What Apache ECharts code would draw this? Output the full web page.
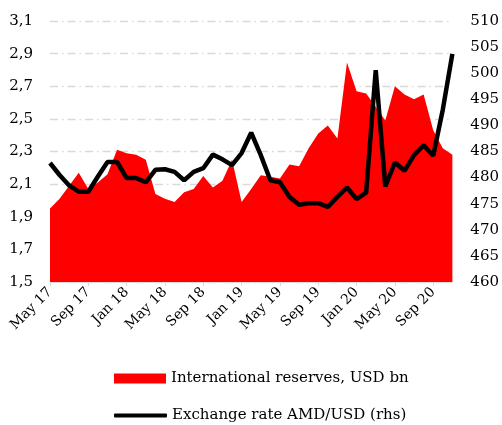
<!DOCTYPE html>
<html>
<head>
<meta charset="utf-8">
<script src="https://cdn.jsdelivr.net/npm/echarts@6/dist/echarts.min.js"></script>
<style>
  html, body { margin: 0; padding: 0; background: #fff; }
  #chart { width: 502px; height: 425px; }
</style>
</head>
<body>
<div id="chart"></div>
<script>
//months May 17 .. Nov 20
let months = [
  'May 17','Jun 17','Jul 17','Aug 17','Sep 17','Oct 17','Nov 17','Dec 17',
  'Jan 18','Feb 18','Mar 18','Apr 18','May 18','Jun 18','Jul 18','Aug 18',
  'Sep 18','Oct 18','Nov 18','Dec 18','Jan 19','Feb 19','Mar 19','Apr 19',
  'May 19','Jun 19','Jul 19','Aug 19','Sep 19','Oct 19','Nov 19','Dec 19',
  'Jan 20','Feb 20','Mar 20','Apr 20','May 20','Jun 20','Jul 20','Aug 20',
  'Sep 20','Oct 20','Nov 20'
];

//International reserves, USD bn (lhs)
let reserves = [
  1.95, 2.01, 2.09, 2.17, 2.07, 2.11, 2.16, 2.31,
  2.29, 2.28, 2.25, 2.04, 2.01, 1.99, 2.05, 2.07,
  2.15, 2.08, 2.12, 2.25, 1.99, 2.07, 2.155, 2.145,
  2.135, 2.22, 2.21, 2.32, 2.41, 2.46, 2.38, 2.845,
  2.67, 2.655, 2.575, 2.49, 2.70, 2.65, 2.62, 2.65,
  2.43, 2.32, 2.28
];

//Exchange rate AMD/USD (rhs)
let amdUsd = [
  482.8, 480.5, 478.5, 477.3, 477.3, 480.2, 483.0, 483.0,
  479.9, 479.9, 479.1, 481.5, 481.6, 481.1, 479.5, 481.1,
  481.8, 484.4, 483.5, 482.4, 484.7, 488.6, 484.3, 479.5,
  479.1, 476.3, 474.8, 475.1, 475.1, 474.4, 476.3, 478.1,
  475.9, 477.1, 500.6, 478.3, 482.9, 481.3, 484.3, 486.2,
  484.2, 493.0, 503.7
];

let leftTicks = { min: 1.5, max: 3.1, step: 0.2 };
let rightTicks = { min: 460, max: 510, step: 5 };

let names = ['International reserves, USD bn', 'Exchange rate AMD/USD (rhs)'];

let font = 'DejaVu Serif';
let chart = echarts.init(document.getElementById('chart'));

let legendText = { fontFamily: font, fontSize: 15, color: '#000' };

let option = {
  animation: false,
  grid: { left: 50, right: 49, top: 21, bottom: 143 },
  legend: [
    {
      left: 109, top: 366,
      itemWidth: 52, itemHeight: 10, itemGap: 6,
      textStyle: legendText,
      data: [{ name: names[0], icon: 'rect', itemStyle: { color: '#ff0000' } }]
    },
    {
      left: 109, top: 403,
      itemWidth: 53, itemHeight: 4, itemGap: 6,
      textStyle: legendText,
      data: [{ name: names[1], icon: 'roundRect', itemStyle: { color: '#000' } }]
    }
  ],
  xAxis: {
    type: 'category',
    data: months,
    boundaryGap: false,
    axisLine: { lineStyle: { color: '#d9d9d9', width: 1 } },
    axisTick: { interval: 3, length: 4, lineStyle: { color: '#d9d9d9' } },
    axisLabel: {
      interval: 3, rotate: 45, margin: 8,
      fontFamily: font, fontSize: 14, color: '#000'
    },
    splitLine: { show: false }
  },
  yAxis: [
    {
      type: 'value',
      min: leftTicks.min, max: leftTicks.max, interval: leftTicks.step,
      axisLine: { show: false },
      axisTick: { show: false },
      axisLabel: {
        margin: 17, fontFamily: font, fontSize: 15, color: '#000',
        formatter: function (v) { return v.toFixed(1).replace('.', ','); }
      },
      splitLine: { lineStyle: { color: '#d9d9d9', width: 1.3, type: [8, 4, 1.5, 4] } }
    },
    {
      type: 'value',
      min: rightTicks.min, max: rightTicks.max, interval: rightTicks.step,
      axisLine: { show: false },
      axisTick: { show: false },
      axisLabel: { margin: 18, fontFamily: font, fontSize: 15, color: '#000' },
      splitLine: { show: false }
    }
  ],
  series: [
    {
      name: names[0],
      type: 'line',
      data: reserves,
      yAxisIndex: 0,
      symbol: 'none',
      color: '#ff0000',
      lineStyle: { width: 0 },
      areaStyle: { color: '#ff0000', opacity: 1, origin: 'start' }
    },
    {
      name: names[1],
      type: 'line',
      data: amdUsd,
      yAxisIndex: 1,
      symbol: 'none',
      color: '#000',
      lineStyle: { color: '#000', width: 4.5 },
      z: 3
    }
  ]
};

chart.setOption(option);
</script>
</body>
</html>
